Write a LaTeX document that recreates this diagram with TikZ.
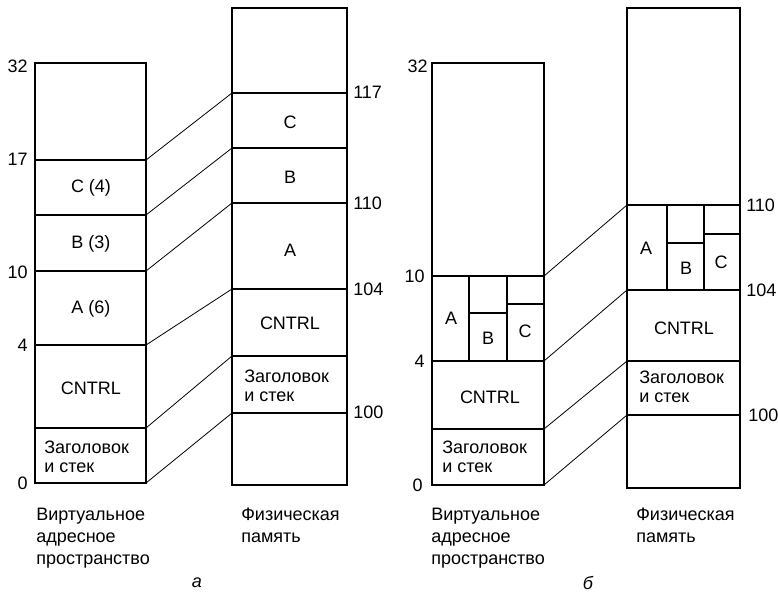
\documentclass[tikz,border=0pt]{standalone}
\usepackage{fontspec}
\setmainfont{Liberation Sans}
\usetikzlibrary{positioning,calc}

\begin{document}
\begin{tikzpicture}[x=0.75pt, y=-0.75pt, every node/.style={font=\fontsize{13.5}{14.5}\selectfont, inner sep=0pt},
    seg/.style={line width=1.5pt}, link/.style={line width=0.6pt},
    note/.style={align=left, anchor=west},
    caption/.style={align=left, anchor=north west}]
            \useasboundingbox (0,0) rectangle (778,596);

            % Virtual address space (a)
            \draw[seg] (35,63) rectangle (146,483);
            \foreach \y in {160,215,271,345,428} \draw[seg] (35,\y) -- (146,\y);
            \node (va-c) at (91,188) {C (4)};
            \node (va-b) at (91,244) {B (3)};
            \node (va-a) at (91,309) {A (6)};
            \node (va-cn) at (91,388) {CNTRL};
            \node[note] (va-h) at (44,457) {Заголовок\\и стек};
            \node[anchor=east] (n32a) at (28,66) {32};
            \node[anchor=east] (n17a) at (28,159) {17};
            \node[anchor=east] (n10a) at (28,272) {10};
            \node[anchor=east] (n4a) at (28,345) {4};
            \node[anchor=east] (n0a) at (28,483) {0};
            \coordinate (va17) at (146,160);
            \coordinate (vacb) at (146,215);
            \coordinate (va10) at (146,271);
            \coordinate (va4) at (146,345);
            \coordinate (vah) at (146,428);
            \coordinate (va0) at (146,483);

            % Physical memory (a)
            \draw[seg] (232,8) rectangle (347,485);
            \foreach \y in {93,148,203,289,356,413} \draw[seg] (232,\y) -- (347,\y);
            \node (pa-c) at (290,122) {C};
            \node (pa-b) at (290,177) {B};
            \node (pa-a) at (290,250) {A};
            \node (pa-cn) at (290,323) {CNTRL};
            \node[note] (pa-h) at (244,386) {Заголовок\\и стек};
            \node[anchor=west] (n117a) at (353,92) {117};
            \node[anchor=west] (n110a) at (353,203) {110};
            \node[anchor=west] (n104a) at (353,289) {104};
            \node[anchor=west] (n100a) at (353,412) {100};
            \coordinate (pa117) at (232,93);
            \coordinate (pacb) at (232,148);
            \coordinate (pa110) at (232,203);
            \coordinate (pa104) at (232,289);
            \coordinate (pah) at (232,356);
            \coordinate (pa100) at (232,413);

            % Lines from virtual to physical (a)
            \foreach \v/\p in {va17/pa117, vacb/pacb, va10/pa110, va4/pa104, vah/pah, va0/pa100}
                \draw[link] (\v) -- (\p);

            \node[caption] (va-t) at (36,508) {Виртуальное\\[2pt]адресное\\[2pt]пространство};
            \node[caption] (pa-t) at (241,508) {Физическая\\[2pt]память};
            \node (cap-a) at (197,583) {\itshape а};

            % Virtual address space (b)
            \draw[seg] (432,63) rectangle (544,485);
            \foreach \y in {276,361,429} \draw[seg] (432,\y) -- (544,\y);
            \draw[seg] (469,276) -- (469,361) (507,276) -- (507,361);
            \draw[seg] (469,313) -- (507,313) (507,304) -- (544,304);
            \node (vb-a) at (451,318) {A};
            \node (vb-b) at (488,338) {B};
            \node (vb-c) at (525,331) {C};
            \node (vb-cn) at (490,397) {CNTRL};
            \node[note] (vb-h) at (442,457) {Заголовок\\и стек};
            \node[anchor=east] (n32b) at (428,66) {32};
            \node[anchor=east] (n10b) at (425,276) {10};
            \node[anchor=east] (n4b) at (425,361) {4};
            \node[anchor=east] (n0b) at (423,485) {0};
            \coordinate (vb10) at (544,276);
            \coordinate (vb4) at (544,361);
            \coordinate (vbh) at (544,429);
            \coordinate (vb0) at (544,485);

            % Physical memory (b)
            \draw[seg] (627,8) rectangle (740,488);
            \foreach \y in {205,290,361,415} \draw[seg] (627,\y) -- (740,\y);
            \draw[seg] (667,205) -- (667,290) (704,205) -- (704,290);
            \draw[seg] (667,243) -- (704,243) (704,234) -- (740,234);
            \node (pb-a) at (646,248) {A};
            \node (pb-b) at (686,268) {B};
            \node (pb-c) at (721,262) {C};
            \node (pb-cn) at (684,328) {CNTRL};
            \node[note] (pb-h) at (639,387) {Заголовок\\и стек};
            \node[anchor=west] (n110b) at (746,205) {110};
            \node[anchor=west] (n104b) at (746,290) {104};
            \node[anchor=west] (n100b) at (748,415) {100};
            \coordinate (pb110) at (627,205);
            \coordinate (pb104) at (627,290);
            \coordinate (pbh) at (627,361);
            \coordinate (pb100) at (627,415);

            % Lines from virtual to physical (b)
            \foreach \v/\p in {vb10/pb110, vb4/pb104, vbh/pbh, vb0/pb100}
                \draw[link] (\v) -- (\p);

            \node[caption] (vb-t) at (431,508) {Виртуальное\\[2pt]адресное\\[2pt]пространство};
            \node[caption] (pb-t) at (636,508) {Физическая\\[2pt]память};
            \node (cap-b) at (588,583) {\itshape б};

        \end{tikzpicture}
\end{document}
